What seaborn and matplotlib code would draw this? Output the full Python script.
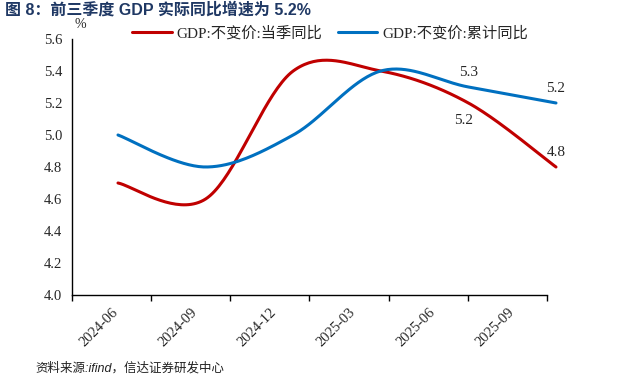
import numpy as np
import pandas as pd
import matplotlib
matplotlib.use("Agg")
import matplotlib.pyplot as plt
import seaborn as sns

# ---- data ----
categories = ["2024-06", "2024-09", "2024-12", "2025-03", "2025-06", "2025-09"]
quarterly_yoy = [4.7, 4.6, 5.4, 5.4, 5.2, 4.8]      # GDP:不变价:当季同比
cumulative_yoy = [5.0, 4.8, 5.0, 5.4, 5.3, 5.2]     # GDP:不变价:累计同比
series_names = ["GDP:不变价:当季同比", "GDP:不变价:累计同比"]
y_ticks = [4.0, 4.2, 4.4, 4.6, 4.8, 5.0, 5.2, 5.4, 5.6]

sns.set_style("white")
plt.rcParams["font.family"] = ["Liberation Serif", "Noto Sans CJK SC"]
plt.rcParams["axes.unicode_minus"] = False

RED = "#C00000"
BLUE = "#0070C0"


def smooth(vals, n=40):
    """Excel-like smoothed line (Catmull-Rom Bezier) for drawing."""
    p = np.asarray(vals, float)
    x = np.arange(len(p), dtype=float)
    xs, ys = [], []
    for i in range(len(p) - 1):
        pm = p[i - 1] if i > 0 else p[i]
        pp = p[i + 2] if i + 2 < len(p) else p[i + 1]
        c1 = p[i] + (p[i + 1] - pm) / 6
        c2 = p[i + 1] - (pp - p[i]) / 6
        xm = x[i - 1] if i > 0 else x[i]
        xp = x[i + 2] if i + 2 < len(p) else x[i + 1]
        cx1 = x[i] + (x[i + 1] - xm) / 6
        cx2 = x[i + 1] - (xp - x[i]) / 6
        t = np.linspace(0, 1, n)
        b0, b1, b2, b3 = (1 - t) ** 3, 3 * t * (1 - t) ** 2, 3 * t ** 2 * (1 - t), t ** 3
        xs.append(b0 * x[i] + b1 * cx1 + b2 * cx2 + b3 * x[i + 1])
        ys.append(b0 * p[i] + b1 * c1 + b2 * c2 + b3 * p[i + 1])
    return np.concatenate(xs), np.concatenate(ys)


fig = plt.figure(figsize=(6.17, 3.77), dpi=100)
ax = fig.add_axes([0.1167, 0.2175, 0.7698, 0.6791])

# category axis (labels at centres, ticks at boundaries)
ax.set_xlim(-0.5, len(categories) - 0.5)
ax.set_ylim(4.0, 5.6)
ax.set_yticks(y_ticks)
ax.set_yticklabels([f"{v:.1f}" for v in y_ticks], fontsize=10.5)
ax.set_xticks(np.arange(len(categories)))
ax.set_xticklabels(categories, rotation=45, ha="right", rotation_mode="anchor", fontsize=10.5)
ax.tick_params(axis="x", which="major", length=0, pad=8)
ax.set_xticks(np.arange(len(categories) + 1) - 0.5, minor=True)
ax.tick_params(axis="x", which="minor", length=4, width=1, direction="out", color="black")
ax.tick_params(axis="y", length=4, width=1, direction="out", color="black", pad=3)
for s in ["top", "right"]:
    ax.spines[s].set_visible(False)
for s in ["left", "bottom"]:
    ax.spines[s].set_color("black")
    ax.spines[s].set_linewidth(1.0)

# line axis (Excel-like offset of the smoothed lines)
ax2 = ax.twiny()
ax2.set_xlim(-0.525, 4.897)
ax2.set_ylim(4.0, 5.6)
ax2.axis("off")

for vals, name, col in [(quarterly_yoy, series_names[0], RED), (cumulative_yoy, series_names[1], BLUE)]:
    sx, sy = smooth(vals)
    df = pd.DataFrame({"x": sx, "y": sy})
    sns.lineplot(data=df, x="x", y="y", ax=ax2, color=col, linewidth=2.2,
                 sort=False, estimator=None, label=name, clip_on=False)

if ax2.get_legend():
    ax2.get_legend().remove()
leg = ax.legend(handles=ax2.get_lines(), labels=series_names, loc="upper left",
                bbox_to_anchor=(0.098, 1.104), ncol=2, frameon=False, fontsize=11,
                handlelength=2.6, handletextpad=0.3, columnspacing=1.0)

# value annotations
n = len(categories)
ax2.text(n - 2, cumulative_yoy[-2] + 0.07, f"{cumulative_yoy[-2]:.1f}", ha="center", fontsize=11)
ax2.text(n - 1, cumulative_yoy[-1] + 0.07, f"{cumulative_yoy[-1]:.1f}", ha="center", fontsize=11)
ax2.text(n - 2 - 0.06, quarterly_yoy[-2] - 0.13, f"{quarterly_yoy[-2]:.1f}", ha="center", fontsize=11)
ax2.text(n - 1, quarterly_yoy[-1] + 0.07, f"{quarterly_yoy[-1]:.1f}", ha="center", fontsize=11)

ax.text(0.005, 1.03, "%", transform=ax.transAxes, fontsize=10, ha="left", va="bottom")

fig.text(0.008, 0.996, "图 8：前三季度 GDP 实际同比增速为 5.2%", fontsize=11.5, fontweight="bold",
         color="#1F3864", ha="left", va="top", family=["Liberation Sans", "Noto Sans CJK SC"])
fig.text(0.057, 0.022, "资料来源:ifind，信达证券研发中心", fontsize=9, style="italic",
         color="#222222", ha="left", va="center", family=["Liberation Sans", "Noto Sans CJK SC"])

fig.savefig("out.png", dpi=100)
